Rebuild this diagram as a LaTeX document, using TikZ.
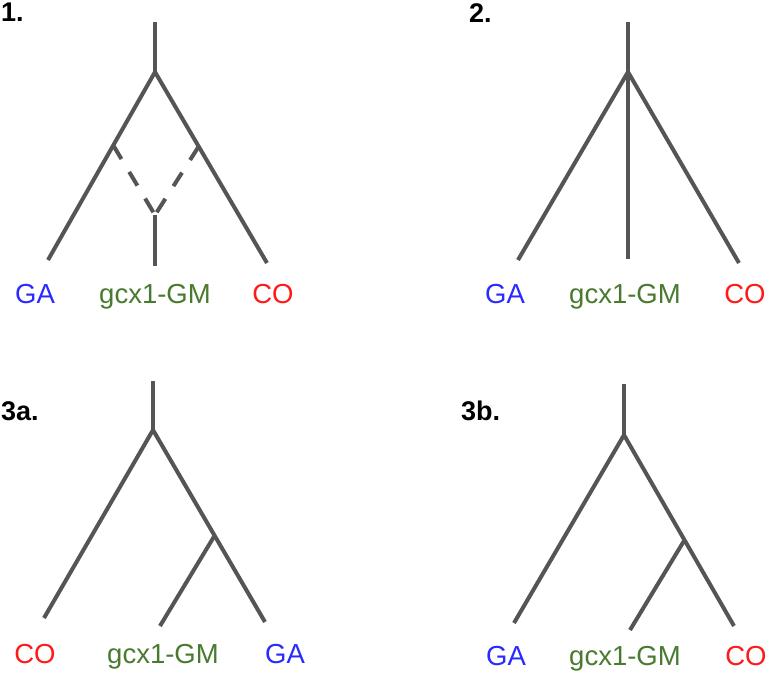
\documentclass[tikz,border=0pt]{standalone}
\usepackage{fontspec}
\setmainfont{Liberation Sans}
\usetikzlibrary{calc}
\definecolor{branch}{HTML}{555555}
\definecolor{tgreen}{HTML}{4A7A30}
\definecolor{tred}{HTML}{FF1A1A}
\definecolor{tblue}{HTML}{2A2AFF}
\begin{document}
\begin{tikzpicture}[x=1pt,y=-1pt,
  edge/.style={draw=branch,line width=4pt,line join=miter},
  dashedge/.style={draw=branch,line width=4pt,dash pattern=on 16pt off 15pt},
  taxon/.style={anchor=base,inner sep=0pt,font=\fontsize{27.5}{30}\selectfont},
  panel/.style={anchor=base west,inner sep=0pt,font=\fontsize{27}{30}\selectfont\bfseries}]
\useasboundingbox (0,0) rectangle (768,672);
% ---- panel 1
\node[panel] (p1) at (1,21) {1.};
\coordinate (a0) at (155,22);
\coordinate (a1) at (155,72);
\coordinate (aL) at (48,260);
\coordinate (aR) at (267,263);
\coordinate (aHL) at ($(a1)!0.39!(aL)$);
\coordinate (aHR) at ($(a1)!0.39!(aR)$);
\coordinate (aY) at (155,215);
\coordinate (aM) at (155,266);
\draw[edge] (a0) -- (a1);
\draw[edge] (aL) -- (a1) -- (aR);
\draw[edge] (aY) -- (aM);
\draw[dashedge] (aHL) -- (aY);
\draw[dashedge] (aHR) -- (aY);
\node[taxon,text=tblue] (t1a) at (35,303) {GA};
\node[taxon,text=tgreen] (t1b) at (155,303) {gcx1-GM};
\node[taxon,text=tred] (t1c) at (273,303) {CO};
% ---- panel 2
\node[panel] (p2) at (469,22) {2.};
\coordinate (b0) at (628,22);
\coordinate (b1) at (628,72);
\coordinate (bL) at (518,260);
\coordinate (bM) at (628,259);
\coordinate (bR) at (739,263);
\draw[edge] (b0) -- (b1);
\draw[edge] (bL) -- (b1) -- (bR);
\draw[edge] (b1) -- (bM);
\node[taxon,text=tblue] (t2a) at (505,303) {GA};
\node[taxon,text=tgreen] (t2b) at (625,303) {gcx1-GM};
\node[taxon,text=tred] (t2c) at (745,303) {CO};
% ---- panel 3a
\node[panel] (p3) at (1,420) {3a.};
\coordinate (c0) at (153,381);
\coordinate (c1) at (153,430);
\coordinate (cL) at (44,618);
\coordinate (cR) at (265,622);
\coordinate (cI) at ($(c1)!0.55!(cR)$);
\coordinate (cM) at (160,626);
\draw[edge] (c0) -- (c1);
\draw[edge] (cL) -- (c1) -- (cR);
\draw[edge] (cI) -- (cM);
\node[taxon,text=tred] (t3a) at (35,663) {CO};
\node[taxon,text=tgreen] (t3b) at (163,663) {gcx1-GM};
\node[taxon,text=tblue] (t3c) at (285,663) {GA};
% ---- panel 3b
\node[panel] (p4) at (461,420) {3b.};
\coordinate (d0) at (624,384);
\coordinate (d1) at (624,435);
\coordinate (dL) at (514,623);
\coordinate (dR) at (734,626);
\coordinate (dI) at ($(d1)!0.55!(dR)$);
\coordinate (dM) at (630,630);
\draw[edge] (d0) -- (d1);
\draw[edge] (dL) -- (d1) -- (dR);
\draw[edge] (dI) -- (dM);
\node[taxon,text=tblue] (t4a) at (506,665) {GA};
\node[taxon,text=tgreen] (t4b) at (625,665) {gcx1-GM};
\node[taxon,text=tred] (t4c) at (746,665) {CO};
\end{tikzpicture}
\end{document}
